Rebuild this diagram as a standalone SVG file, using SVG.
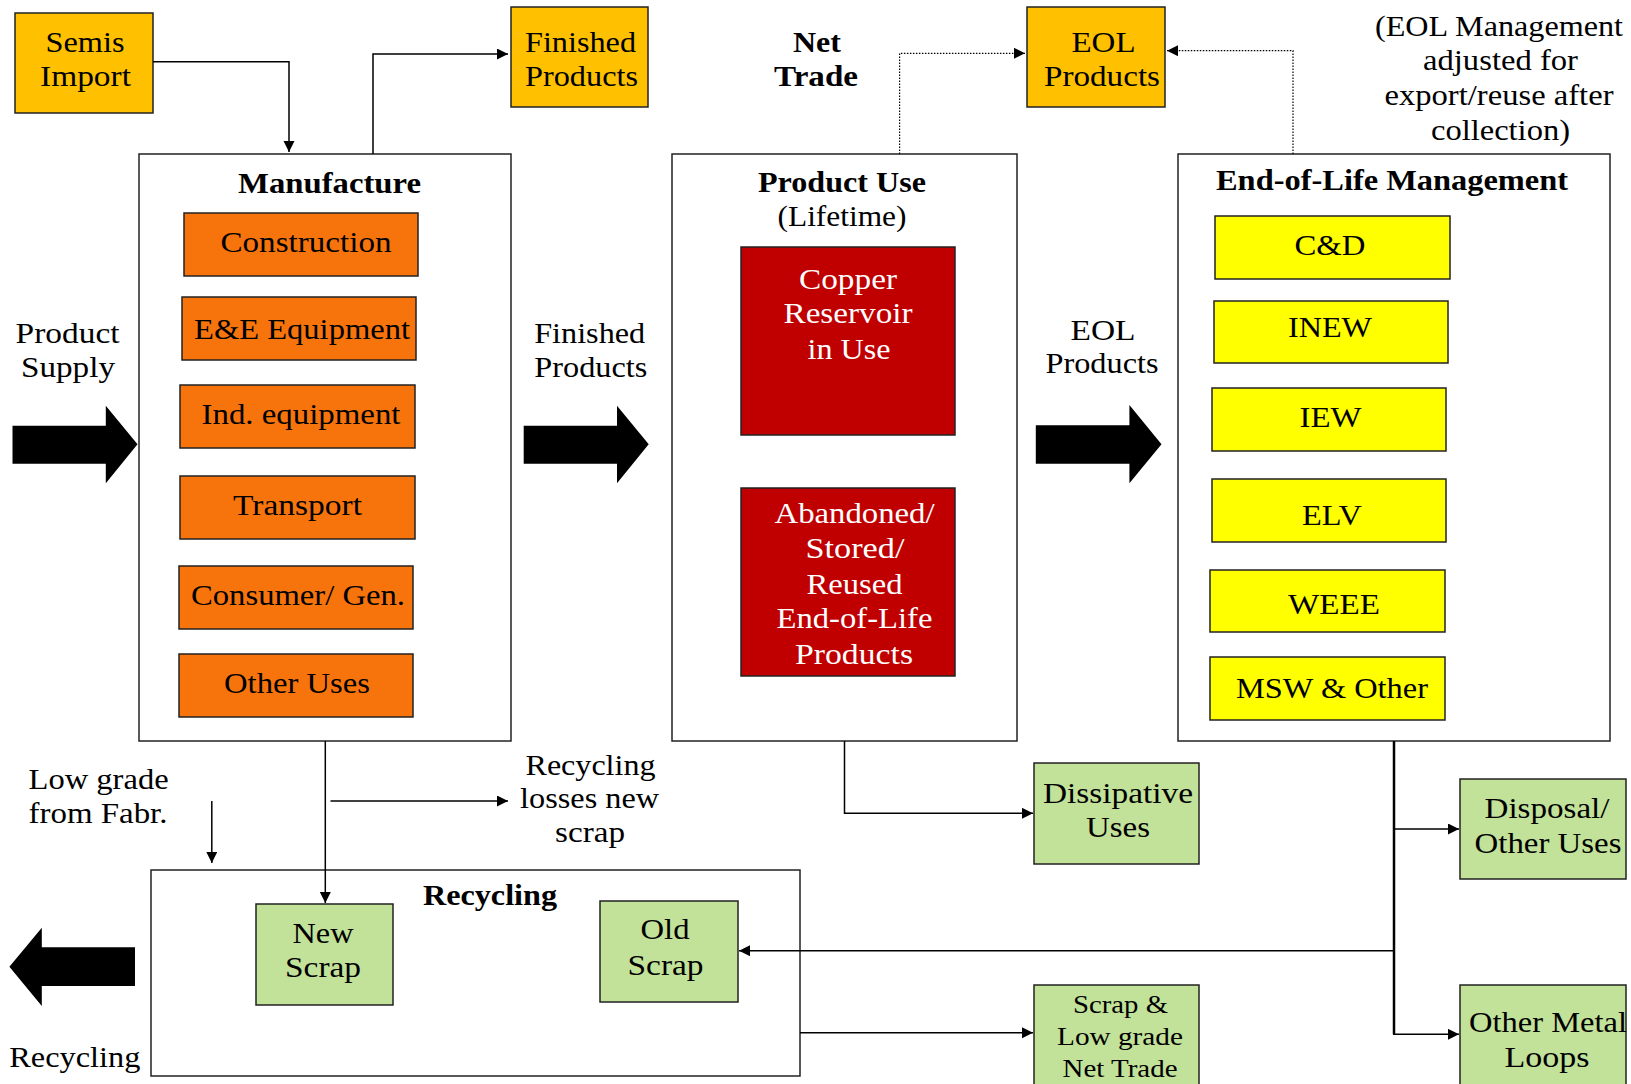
<svg xmlns="http://www.w3.org/2000/svg" width="1631" height="1084" viewBox="0 0 1631 1084">
<defs>
<style>
.t{font-family:"Liberation Serif","Times New Roman",serif;font-size:29px;text-anchor:middle;fill:#000}
.b{font-weight:bold}
.w{fill:#fff}
.s26{font-size:26px}
.box{stroke:#222;stroke-width:1.5}
.frame{fill:#fff;stroke:#222;stroke-width:1.5}
.gold{fill:#FFC000}
.orange{fill:#F7740D}
.red{fill:#C00000}
.yellow{fill:#FFFF00}
.green{fill:#C2E199}
.ln{fill:none;stroke:#000;stroke-width:1.5}
.bus{fill:none;stroke:#000;stroke-width:2.5}
.dot{fill:none;stroke:#000;stroke-width:1.2;stroke-dasharray:1.5 1.5}
.big{fill:#000}
</style>
<marker id="ah" markerWidth="12" markerHeight="12" refX="11" refY="5.5" orient="auto" markerUnits="userSpaceOnUse"><path d="M0,0 L11,5.5 L0,11 z" fill="#000"/></marker>
</defs>
<rect width="1631" height="1084" fill="#fff"/>

<!-- Top nodes -->
<g id="semis-import">
<rect class="box gold" x="15" y="13" width="138" height="100"/>
<text class="t" x="85" y="52" textLength="79" lengthAdjust="spacingAndGlyphs">Semis</text>
<text class="t" x="85.5" y="86" textLength="91" lengthAdjust="spacingAndGlyphs">Import</text>
</g>
<g id="finished-products-top">
<rect class="box gold" x="511" y="7" width="137" height="100"/>
<text class="t" x="580.5" y="52" textLength="111" lengthAdjust="spacingAndGlyphs">Finished</text>
<text class="t" x="581.5" y="86" textLength="113" lengthAdjust="spacingAndGlyphs">Products</text>
</g>
<g id="net-trade-label">
<text class="t b" x="817" y="52" textLength="48" lengthAdjust="spacingAndGlyphs">Net</text>
<text class="t b" x="816" y="86" textLength="84" lengthAdjust="spacingAndGlyphs">Trade</text>
</g>
<g id="eol-products-top">
<rect class="box gold" x="1027" y="7" width="138" height="100"/>
<text class="t" x="1103.5" y="52" textLength="64" lengthAdjust="spacingAndGlyphs">EOL</text>
<text class="t" x="1102" y="86" textLength="116" lengthAdjust="spacingAndGlyphs">Products</text>
</g>
<g id="eol-note">
<text class="t" x="1499" y="36" textLength="248" lengthAdjust="spacingAndGlyphs">(EOL Management</text>
<text class="t" x="1500.5" y="70" textLength="155" lengthAdjust="spacingAndGlyphs">adjusted for</text>
<text class="t" x="1499" y="105" textLength="229" lengthAdjust="spacingAndGlyphs">export/reuse after</text>
<text class="t" x="1500.5" y="140" textLength="139" lengthAdjust="spacingAndGlyphs">collection)</text>
</g>

<!-- Manufacture -->
<g id="manufacture">
<rect class="frame" x="139" y="154" width="372" height="587"/>
<text class="t b" x="329.5" y="193" textLength="183" lengthAdjust="spacingAndGlyphs">Manufacture</text>
</g>
<g id="construction">
<rect class="box orange" x="184" y="213" width="234" height="63"/>
<text class="t" x="306" y="252" textLength="171" lengthAdjust="spacingAndGlyphs">Construction</text>
</g>
<g id="ee-equipment">
<rect class="box orange" x="182" y="297" width="234" height="63"/>
<text class="t" x="302" y="339" textLength="216" lengthAdjust="spacingAndGlyphs">E&amp;E Equipment</text>
</g>
<g id="ind-equipment">
<rect class="box orange" x="180" y="385" width="235" height="63"/>
<text class="t" x="301" y="424" textLength="199" lengthAdjust="spacingAndGlyphs">Ind. equipment</text>
</g>
<g id="transport">
<rect class="box orange" x="180" y="476" width="235" height="63"/>
<text class="t" x="297.5" y="515" textLength="129" lengthAdjust="spacingAndGlyphs">Transport</text>
</g>
<g id="consumer-gen">
<rect class="box orange" x="179" y="566" width="234" height="63"/>
<text class="t" x="298" y="605" textLength="214" lengthAdjust="spacingAndGlyphs">Consumer/ Gen.</text>
</g>
<g id="other-uses">
<rect class="box orange" x="179" y="654" width="234" height="63"/>
<text class="t" x="297" y="693" textLength="146" lengthAdjust="spacingAndGlyphs">Other Uses</text>
</g>

<!-- Product Use -->
<g id="product-use">
<rect class="frame" x="672" y="154" width="345" height="587"/>
<text class="t b" x="842" y="192" textLength="168" lengthAdjust="spacingAndGlyphs">Product Use</text>
<text class="t" x="842" y="226" textLength="129" lengthAdjust="spacingAndGlyphs">(Lifetime)</text>
</g>
<g id="copper-reservoir">
<rect class="box red" x="741" y="247" width="214" height="188"/>
<text class="t w" x="848" y="289" textLength="98" lengthAdjust="spacingAndGlyphs">Copper</text>
<text class="t w" x="848" y="323" textLength="129" lengthAdjust="spacingAndGlyphs">Reservoir</text>
<text class="t w" x="849" y="359" textLength="83" lengthAdjust="spacingAndGlyphs">in Use</text>
</g>
<g id="abandoned-stored">
<rect class="box red" x="741" y="488" width="214" height="188"/>
<text class="t w" x="854.5" y="523" textLength="160" lengthAdjust="spacingAndGlyphs">Abandoned/</text>
<text class="t w" x="855" y="558" textLength="99" lengthAdjust="spacingAndGlyphs">Stored/</text>
<text class="t w" x="854.5" y="594" textLength="96" lengthAdjust="spacingAndGlyphs">Reused</text>
<text class="t w" x="854.5" y="628" textLength="156" lengthAdjust="spacingAndGlyphs">End-of-Life</text>
<text class="t w" x="854" y="664" textLength="118" lengthAdjust="spacingAndGlyphs">Products</text>
</g>

<!-- End-of-Life Management -->
<g id="eol-management">
<rect class="frame" x="1178" y="154" width="432" height="587"/>
<text class="t b" x="1392" y="190" textLength="352" lengthAdjust="spacingAndGlyphs">End-of-Life Management</text>
</g>
<g id="cd">
<rect class="box yellow" x="1215" y="216" width="235" height="63"/>
<text class="t" x="1330" y="255" textLength="71" lengthAdjust="spacingAndGlyphs">C&amp;D</text>
</g>
<g id="inew">
<rect class="box yellow" x="1214" y="301" width="234" height="62"/>
<text class="t" x="1330" y="337" textLength="84" lengthAdjust="spacingAndGlyphs">INEW</text>
</g>
<g id="iew">
<rect class="box yellow" x="1212" y="388" width="234" height="63"/>
<text class="t" x="1330.5" y="427" textLength="62" lengthAdjust="spacingAndGlyphs">IEW</text>
</g>
<g id="elv">
<rect class="box yellow" x="1212" y="479" width="234" height="63"/>
<text class="t" x="1332" y="525" textLength="60" lengthAdjust="spacingAndGlyphs">ELV</text>
</g>
<g id="weee">
<rect class="box yellow" x="1210" y="570" width="235" height="62"/>
<text class="t" x="1334" y="614" textLength="92" lengthAdjust="spacingAndGlyphs">WEEE</text>
</g>
<g id="msw-other">
<rect class="box yellow" x="1210" y="657" width="235" height="63"/>
<text class="t" x="1332" y="698" textLength="192" lengthAdjust="spacingAndGlyphs">MSW &amp; Other</text>
</g>

<!-- Lower nodes -->
<g id="recycling">
<rect class="frame" x="151" y="870" width="649" height="206"/>
<text class="t b" x="490" y="905" textLength="134" lengthAdjust="spacingAndGlyphs">Recycling</text>
</g>
<g id="new-scrap">
<rect class="box green" x="256" y="904" width="137" height="101"/>
<text class="t" x="323" y="943" textLength="61" lengthAdjust="spacingAndGlyphs">New</text>
<text class="t" x="323" y="977" textLength="76" lengthAdjust="spacingAndGlyphs">Scrap</text>
</g>
<g id="old-scrap">
<rect class="box green" x="600" y="901" width="138" height="101"/>
<text class="t" x="665" y="939" textLength="49" lengthAdjust="spacingAndGlyphs">Old</text>
<text class="t" x="665.5" y="975" textLength="76" lengthAdjust="spacingAndGlyphs">Scrap</text>
</g>
<g id="dissipative-uses">
<rect class="box green" x="1034" y="763" width="165" height="101"/>
<text class="t" x="1118" y="803" textLength="150" lengthAdjust="spacingAndGlyphs">Dissipative</text>
<text class="t" x="1118" y="837" textLength="64" lengthAdjust="spacingAndGlyphs">Uses</text>
</g>
<g id="disposal-other-uses">
<rect class="box green" x="1460" y="779" width="166" height="100"/>
<text class="t" x="1547" y="818" textLength="125" lengthAdjust="spacingAndGlyphs">Disposal/</text>
<text class="t" x="1548" y="853" textLength="147" lengthAdjust="spacingAndGlyphs">Other Uses</text>
</g>
<g id="scrap-low-grade-net-trade">
<rect class="box green" x="1034" y="985" width="165" height="110"/>
<text class="t s26" x="1120.5" y="1013" textLength="95" lengthAdjust="spacingAndGlyphs">Scrap &amp;</text>
<text class="t s26" x="1120" y="1045" textLength="126" lengthAdjust="spacingAndGlyphs">Low grade</text>
<text class="t s26" x="1120" y="1077" textLength="115" lengthAdjust="spacingAndGlyphs">Net Trade</text>
</g>
<g id="other-metal-loops">
<rect class="box green" x="1460" y="985" width="166" height="110"/>
<text class="t" x="1548" y="1032" textLength="158" lengthAdjust="spacingAndGlyphs">Other Metal</text>
<text class="t" x="1547" y="1067" textLength="85" lengthAdjust="spacingAndGlyphs">Loops</text>
</g>

<!-- Connectors -->
<g id="connectors">
<path class="ln" d="M153,61.7 H289 V152" marker-end="url(#ah)"/>
<path class="ln" d="M373,154 V54 H508" marker-end="url(#ah)"/>
<path class="dot" d="M899.6,154 V53.3 H1025" marker-end="url(#ah)"/>
<path class="dot" d="M1293,154 V50.7 H1167" marker-end="url(#ah)"/>
<path class="ln" d="M325.3,741 V903" marker-end="url(#ah)"/>
<path class="ln" d="M330.5,801 H508" marker-end="url(#ah)"/>
<path class="ln" d="M211.8,801 V863" marker-end="url(#ah)"/>
<path class="ln" d="M844.5,741 V813.3 H1033" marker-end="url(#ah)"/>
<path class="bus" d="M1394,741 V1034.3"/>
<path class="ln" d="M1394,829 H1459" marker-end="url(#ah)"/>
<path class="ln" d="M1394,950.7 H739" marker-end="url(#ah)"/>
<path class="ln" d="M1393,1034.3 H1459" marker-end="url(#ah)"/>
<path class="ln" d="M800,1032.7 H1033" marker-end="url(#ah)"/>

<polygon class="big" points="12.5,425.7 105.8,425.7 105.8,405.7 137.5,444.3 105.8,483.3 105.8,463.7 12.5,463.7"/>
<polygon class="big" points="523.7,425.7 617,425.7 617,405.7 648.7,444.3 617,483.3 617,463.7 523.7,463.7"/>
<polygon class="big" points="1035.8,425.3 1129.4,425.3 1129.4,405 1161.5,444.3 1129.4,483.3 1129.4,463.7 1035.8,463.7"/>
<polygon class="big" points="135,947.3 41.8,947.3 41.8,927.7 9.4,966.7 41.8,1006 41.8,986 135,986"/>

<text class="t" x="67.6" y="343" textLength="104" lengthAdjust="spacingAndGlyphs">Product</text>
<text class="t" x="68" y="377" textLength="94" lengthAdjust="spacingAndGlyphs">Supply</text>
<text class="t" x="589.7" y="343" textLength="111" lengthAdjust="spacingAndGlyphs">Finished</text>
<text class="t" x="590.8" y="377" textLength="113" lengthAdjust="spacingAndGlyphs">Products</text>
<text class="t" x="1103" y="340" textLength="65" lengthAdjust="spacingAndGlyphs">EOL</text>
<text class="t" x="1102" y="373" textLength="113" lengthAdjust="spacingAndGlyphs">Products</text>
<text class="t" x="98.6" y="789" textLength="140" lengthAdjust="spacingAndGlyphs">Low grade</text>
<text class="t" x="98" y="823" textLength="139" lengthAdjust="spacingAndGlyphs">from Fabr.</text>
<text class="t" x="590.5" y="775" textLength="130" lengthAdjust="spacingAndGlyphs">Recycling</text>
<text class="t" x="589.6" y="808" textLength="139" lengthAdjust="spacingAndGlyphs">losses new</text>
<text class="t" x="590" y="842" textLength="70" lengthAdjust="spacingAndGlyphs">scrap</text>
<text class="t" x="74.8" y="1067" textLength="131" lengthAdjust="spacingAndGlyphs">Recycling</text>
</g>
</svg>
